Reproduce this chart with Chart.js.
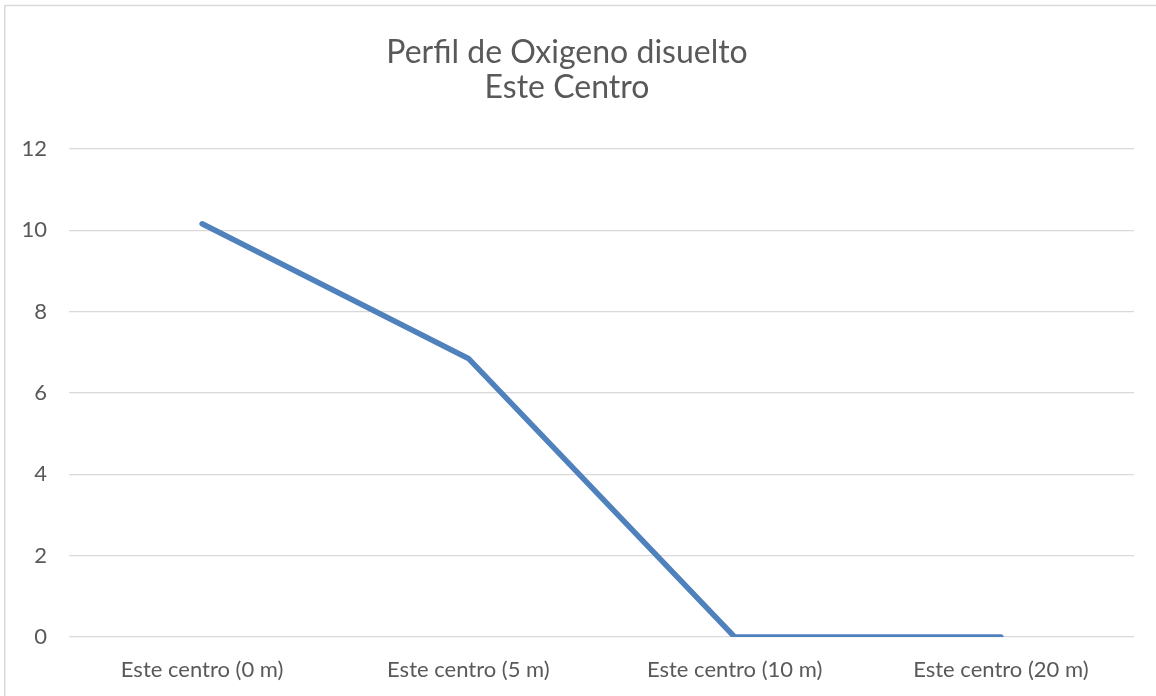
<!DOCTYPE html>
<html>
<head>
<meta charset="utf-8">
<script src="https://cdn.jsdelivr.net/npm/chart.js@4/dist/chart.umd.min.js"></script>
<style>
  html, body { margin: 0; padding: 0; background: #fff; }
  #wrap { width: 1156px; height: 696px; position: relative; }
</style>
</head>
<body>
<div id="wrap"><canvas id="chart" width="1156" height="696"></canvas></div>
<script>
// datos del gráfico
const categories = ['Este centro (0 m)', 'Este centro (5 m)', 'Este centro (10 m)', 'Este centro (20 m)'];
const oxigeno = [10.16, 6.85, 0, 0];
const titleLines = ['Perfil de Oxigeno disuelto', 'Este Centro'];

const textColor = '#595959';
const gridColor = '#d9d9d9';

// marco exterior (solo arriba e izquierda quedan dentro de la imagen)
const frame = {
  id: 'frame',
  afterDraw(chart) {
    const c = chart.ctx;
    c.save();
    c.strokeStyle = gridColor;
    c.lineWidth = 1.5;
    c.beginPath();
    c.moveTo(4.75, 696);
    c.lineTo(4.75, 5.5);
    c.lineTo(1156, 5.5);
    c.stroke();
    c.restore();
  }
};

const ctx = document.getElementById('chart').getContext('2d');
new Chart(ctx, {
  type: 'line',
  data: {
    labels: categories,
    datasets: [{
      label: 'Oxigeno disuelto',
      data: oxigeno,
      borderColor: '#4f81bd',
      borderWidth: 5.5,
      borderCapStyle: 'round',
      borderJoinStyle: 'round',
      pointRadius: 0,
      fill: false,
      tension: 0
    }]
  },
  options: {
    responsive: false,
    animation: false,
    layout: { padding: { left: 0, right: 22, top: 0, bottom: 0 } },
    plugins: {
      legend: { display: false },
      tooltip: { enabled: false },
      title: {
        display: true,
        text: titleLines,
        color: textColor,
        font: { family: 'Lato', size: 32, weight: 'normal', lineHeight: 1.1 },
        padding: { top: 35, bottom: 43.6 }
      }
    },
    scales: {
      x: {
        offset: true,
        grid: { display: false, drawTicks: false },
        border: { display: false },
        ticks: {
          color: textColor,
          font: { family: 'Lato', size: 22 },
          padding: 20,
          maxRotation: 0
        },
        afterFit(scale) { scale.height = 59; }
      },
      y: {
        min: 0,
        max: 12,
        ticks: {
          stepSize: 2,
          color: textColor,
          font: { family: 'Lato', size: 22 },
          padding: 22
        },
        grid: { color: gridColor, lineWidth: 1.3, drawTicks: false },
        border: { display: false },
        afterFit(scale) { scale.width = 69; }
      }
    }
  },
  plugins: [frame]
});
</script>
</body>
</html>
